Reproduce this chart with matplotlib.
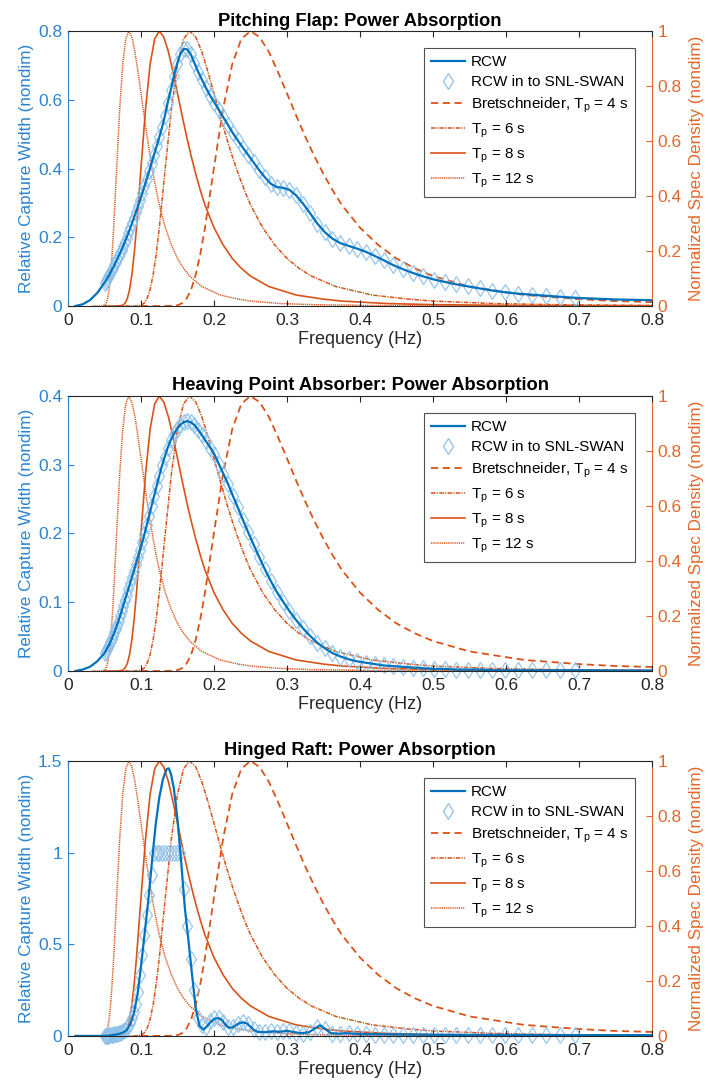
"""
plot.py - relative capture width vs. Bretschneider spectra, three WEC devices
"""
import matplotlib.pyplot as plt
from matplotlib.lines import Line2D
import numpy as np

plt.rcParams['font.family'] = ['Liberation Sans', 'DejaVu Sans']
plt.rcParams['mathtext.fontset'] = 'custom'
plt.rcParams['mathtext.rm'] = 'Liberation Sans'

# SWAN frequency grid (Hz) used for the diamonds
swan_freq = [0.0500, 0.0515, 0.0530, 0.0546, 0.0563, 0.0580, 0.0597, 0.0615, 0.0633, 0.0652,
             0.0672, 0.0692, 0.0713, 0.0734, 0.0756, 0.0779, 0.0802, 0.0826, 0.0851, 0.0877,
             0.0903, 0.0930, 0.0958, 0.0987, 0.1016, 0.1047, 0.1078, 0.1111, 0.1144, 0.1178,
             0.1214, 0.1250, 0.1288, 0.1326, 0.1366, 0.1407, 0.1449, 0.1493, 0.1537, 0.1584,
             0.1631, 0.1680, 0.1730, 0.1782, 0.1836, 0.1891, 0.1948, 0.2006, 0.2066, 0.2128,
             0.2192, 0.2258, 0.2325, 0.2395, 0.2467, 0.2541, 0.2617, 0.2696, 0.2777, 0.2860,
             0.2946, 0.3034, 0.3125, 0.3219, 0.3316, 0.3415, 0.3517, 0.3623, 0.3732, 0.3844,
             0.3959, 0.4078, 0.4200, 0.4326, 0.4456, 0.4589, 0.4727, 0.4869, 0.5015, 0.5166,
             0.5321, 0.5480, 0.5645, 0.5814, 0.5988, 0.6168, 0.6353, 0.6544, 0.6740, 0.6942]

# pitching flap
pitch_swan = [0.068, 0.073, 0.078, 0.084, 0.090, 0.097, 0.104, 0.111, 0.118, 0.127,
              0.136, 0.145, 0.154, 0.164, 0.175, 0.187, 0.199, 0.212, 0.226, 0.241,
              0.257, 0.273, 0.290, 0.309, 0.328, 0.348, 0.370, 0.392, 0.416, 0.440,
              0.465, 0.491, 0.520, 0.552, 0.592, 0.628, 0.668, 0.704, 0.733, 0.748,
              0.747, 0.733, 0.708, 0.682, 0.658, 0.634, 0.612, 0.592, 0.571, 0.549,
              0.527, 0.503, 0.482, 0.461, 0.440, 0.418, 0.396, 0.375, 0.356, 0.346,
              0.344, 0.338, 0.322, 0.298, 0.270, 0.240, 0.215, 0.196, 0.183, 0.175,
              0.167, 0.158, 0.146, 0.133, 0.119, 0.107, 0.096, 0.086, 0.077, 0.070,
              0.063, 0.057, 0.051, 0.045, 0.040, 0.036, 0.033, 0.030, 0.027, 0.024]
pitch_lo_f = [0.01, 0.02, 0.03, 0.04]
pitch_lo = [0.0, 0.005, 0.017, 0.038]
pitch_hi_f = [0.75, 0.8]
pitch_hi = [0.019, 0.017]

# heaving point absorber
heave_swan = [0.026, 0.029, 0.032, 0.035, 0.038, 0.042, 0.046, 0.051, 0.056, 0.061,
              0.067, 0.073, 0.080, 0.087, 0.095, 0.103, 0.111, 0.119, 0.128, 0.137,
              0.146, 0.156, 0.166, 0.176, 0.187, 0.199, 0.212, 0.226, 0.240, 0.254,
              0.269, 0.284, 0.299, 0.312, 0.325, 0.336, 0.345, 0.352, 0.358, 0.362,
              0.3635, 0.362, 0.358, 0.351, 0.343, 0.334, 0.325, 0.315, 0.301, 0.287,
              0.272, 0.255, 0.238, 0.220, 0.202, 0.184, 0.166, 0.148, 0.131, 0.115,
              0.101, 0.087, 0.074, 0.062, 0.051, 0.041, 0.033, 0.026, 0.021, 0.017,
              0.014, 0.012, 0.010, 0.008, 0.007, 0.006, 0.005, 0.004, 0.003, 0.003,
              0.002, 0.002, 0.002, 0.001, 0.001, 0.001, 0.001, 0.001, 0.001, 0.001]
heave_lo_f = [0.01, 0.02, 0.03, 0.04]
heave_lo = [0.0, 0.002, 0.006, 0.014]
heave_hi_f = [0.75, 0.8]
heave_hi = [0.0008, 0.0006]

# hinged raft (SWAN input is capped at 1)
raft_swan = [0.000, 0.000, 0.001, 0.002, 0.003, 0.004, 0.005, 0.006, 0.008, 0.010,
             0.012, 0.015, 0.018, 0.022, 0.027, 0.034, 0.043, 0.055, 0.072, 0.095,
             0.128, 0.175, 0.24, 0.33, 0.44, 0.55, 0.66, 0.77, 0.88, 1.0,
             1.0, 1.0, 1.0, 1.0, 1.0, 1.0, 1.0, 1.0, 1.0, 0.80,
             0.60, 0.42, 0.25, 0.10, 0.06, 0.05, 0.08, 0.095, 0.095, 0.075,
             0.05, 0.05, 0.065, 0.075, 0.065, 0.035, 0.02, 0.02, 0.025, 0.022,
             0.025, 0.025, 0.015, 0.012, 0.022, 0.05, 0.04, 0.012, 0.012, 0.015,
             0.010, 0.008, 0.007, 0.007, 0.006, 0.006, 0.006, 0.006, 0.005, 0.005,
             0.005, 0.005, 0.005, 0.005, 0.004, 0.004, 0.004, 0.004, 0.004, 0.004]
raft_line_f = [0.01, 0.05, 0.055, 0.06, 0.065, 0.07, 0.075, 0.08, 0.085, 0.09,
               0.095, 0.10, 0.105, 0.11, 0.115, 0.12, 0.125, 0.13, 0.135, 0.138,
               0.141, 0.145, 0.15, 0.155, 0.16, 0.165, 0.17, 0.175, 0.18, 0.185,
               0.19, 0.195, 0.20, 0.205, 0.21, 0.215, 0.22, 0.225, 0.23, 0.235,
               0.24, 0.245, 0.25, 0.255, 0.26, 0.27, 0.28, 0.29, 0.30, 0.31,
               0.32, 0.33, 0.34, 0.345, 0.35, 0.36, 0.37, 0.38, 0.40, 0.45,
               0.5, 0.6, 0.7, 0.8]
raft_line = [0, 0, 0.002, 0.004, 0.007, 0.011, 0.018, 0.03, 0.06, 0.12,
             0.22, 0.38, 0.56, 0.74, 0.95, 1.15, 1.30, 1.40, 1.455, 1.46,
             1.43, 1.35, 1.18, 0.95, 0.70, 0.52, 0.33, 0.15, 0.055, 0.035,
             0.05, 0.075, 0.092, 0.097, 0.09, 0.065, 0.045, 0.045, 0.058, 0.070,
             0.074, 0.068, 0.05, 0.032, 0.022, 0.02, 0.025, 0.022, 0.028, 0.02,
             0.015, 0.02, 0.045, 0.058, 0.045, 0.015, 0.012, 0.015, 0.01, 0.008,
             0.006, 0.005, 0.004, 0.004]

# normalized Bretschneider shape vs f/fp (same for every Tp)
spec_ratio = [0.4, 0.5, 0.55, 0.6, 0.625, 0.65, 0.675, 0.7, 0.725, 0.75,
              0.8, 0.85, 0.9, 0.95, 1.0, 1.05, 1.1, 1.15, 1.2, 1.25,
              1.3, 1.35, 1.4, 1.45, 1.5, 1.6, 1.7, 1.8, 1.9, 2.0,
              2.2, 2.5, 2.8, 3.0, 3.5, 4.0, 5.0, 6.0, 8.0, 10.0]
spec_norm = [0.0, 0.0, 0.0001, 0.0029, 0.0101, 0.0273, 0.0604, 0.114, 0.189, 0.283,
             0.504, 0.718, 0.880, 0.972, 1.0, 0.978, 0.925, 0.852, 0.773, 0.693,
             0.616, 0.545, 0.480, 0.421, 0.368, 0.285, 0.222, 0.173, 0.137, 0.109,
             0.071, 0.040, 0.025, 0.018, 0.009, 0.005, 0.0018, 0.0008, 0.0002, 0.00005]
peak_periods = [4, 6, 8, 12]
spec_labels = [r'Bretschneider, T$_{\mathregular{p}}$ = 4 s', r'T$_{\mathregular{p}}$ = 6 s',
               r'T$_{\mathregular{p}}$ = 8 s', r'T$_{\mathregular{p}}$ = 12 s']
spec_styles = [(0, (4, 2.5)), (0, (3, 0.8, 0.8, 0.8)), '-', (0, (0.8, 0.6))]
spec_widths = [1.3, 1.1, 1.2, 1.1]

titles = ['Pitching Flap: Power Absorption',
          'Heaving Point Absorber: Power Absorption',
          'Hinged Raft: Power Absorption']
ylims = [0.8, 0.4, 1.5]
yticks = [[0, 0.2, 0.4, 0.6, 0.8], [0, 0.1, 0.2, 0.3, 0.4], [0, 0.5, 1, 1.5]]
ytick_labels = [['0', '0.2', '0.4', '0.6', '0.8'], ['0', '0.1', '0.2', '0.3', '0.4'],
                ['0', '0.5', '1', '1.5']]

line_f = [pitch_lo_f + swan_freq + pitch_hi_f, heave_lo_f + swan_freq + heave_hi_f, raft_line_f]
line_y = [pitch_lo + pitch_swan + pitch_hi, heave_lo + heave_swan + heave_hi, raft_line]
swan_y = [pitch_swan, heave_swan, raft_swan]

blue = '#0072BD'
blue_ax = '#2a84cf'
diamond = '#8cc0ea'
orange = '#D95319'
orange_ax = '#E2672C'
dark = '#262626'

fig = plt.figure(figsize=(7.10, 10.91), dpi=100)
bottoms = [0.7195, 0.385, 0.0505]

for i in range(3):
    ax = fig.add_axes([0.0958, bottoms[i], 0.8225, 0.252])
    ax2 = ax.twinx()
    ax.set_zorder(ax2.get_zorder() + 1)
    ax.patch.set_visible(False)

    spec_handles = []
    for tp, lab, ls, lw in zip(peak_periods, spec_labels, spec_styles, spec_widths):
        f = np.array(spec_ratio) / tp
        h, = ax2.plot(f, spec_norm, color=orange, ls=ls, lw=lw, label=lab)
        spec_handles.append(h)

    ax.plot(swan_freq, swan_y[i], ls='none', marker='d', ms=8.5, mfc='none',
            mec=diamond, mew=0.9, alpha=0.9, clip_on=False)
    ax.plot(line_f[i], line_y[i], color=blue, lw=1.6)

    ax.set_xlim(0, 0.8)
    ax.set_ylim(0, ylims[i])
    ax2.set_ylim(0, 1)
    ax.set_xticks(np.arange(0, 0.81, 0.1))
    ax.set_xticklabels(['0', '0.1', '0.2', '0.3', '0.4', '0.5', '0.6', '0.7', '0.8'])
    ax.set_yticks(yticks[i])
    ax.set_yticklabels(ytick_labels[i])
    ax2.set_yticks([0, 0.2, 0.4, 0.6, 0.8, 1])
    ax2.set_yticklabels(['0', '0.2', '0.4', '0.6', '0.8', '1'])

    ax.tick_params(axis='x', direction='in', top=True, length=4, labelsize=12.5,
                   colors=dark, pad=5)
    ax.tick_params(axis='y', direction='in', length=4, labelsize=12.5,
                   colors=blue_ax, pad=4)
    ax2.tick_params(axis='y', direction='in', length=4, labelsize=12.5,
                    colors=orange_ax, pad=4)

    ax.spines['right'].set_visible(False)
    ax.spines['left'].set_color(blue_ax)
    ax.spines['top'].set_color(dark)
    ax.spines['bottom'].set_color(dark)
    ax2.spines['left'].set_visible(False)
    ax2.spines['top'].set_visible(False)
    ax2.spines['bottom'].set_visible(False)
    ax2.spines['right'].set_color(orange_ax)
    for s in ax.spines.values():
        s.set_linewidth(0.8)
    ax2.spines['right'].set_linewidth(0.8)

    ax.set_title(titles[i], fontsize=13.2, fontweight='bold', color='black', pad=4)
    ax.set_xlabel('Frequency (Hz)', fontsize=13, color=dark, labelpad=2)
    ax.set_ylabel('Relative Capture Width (nondim)', fontsize=12.3, color=blue_ax, labelpad=3)
    ax2.set_ylabel('Normalized Spec Density (nondim)', fontsize=12.3, color=orange_ax, labelpad=5)

    handles = [Line2D([], [], color=blue, lw=1.6),
               Line2D([], [], ls='none', marker='d', ms=8.5, mfc='none', mec=diamond, mew=0.9)]
    handles += spec_handles
    labels = ['RCW', 'RCW in to SNL-SWAN'] + spec_labels
    leg = ax.legend(handles, labels, loc='upper right', bbox_to_anchor=(0.971, 0.938),
                    borderaxespad=0, fontsize=11, frameon=True, fancybox=False,
                    edgecolor=dark, handlelength=2.2, handletextpad=0.4,
                    labelspacing=0.42, borderpad=0.45)
    leg.get_frame().set_linewidth(0.8)

fig.savefig('out.png', dpi=100)
